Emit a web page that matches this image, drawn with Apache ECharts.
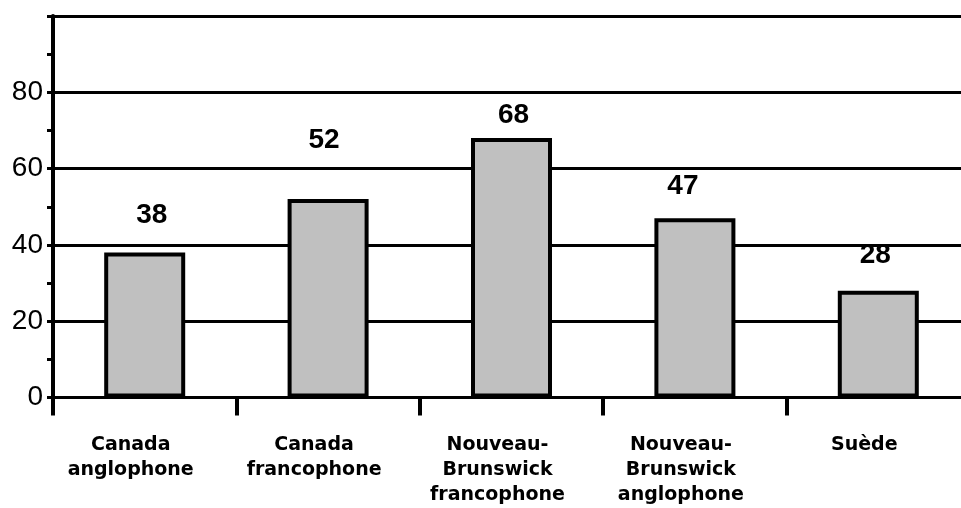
<!DOCTYPE html>
<html>
<head>
<meta charset="utf-8">
<script src="https://cdn.jsdelivr.net/npm/echarts@6/dist/echarts.min.js"></script>
<style>
  html, body { margin: 0; padding: 0; background: #ffffff; overflow: hidden; }
  #chart { width: 970px; height: 508px; }
</style>
</head>
<body>
<div id="chart"></div>
<script>
// Categories and values
const categories = [
  'Canada\nanglophone',
  'Canada\nfrancophone',
  'Nouveau-\nBrunswick\nfrancophone',
  'Nouveau-\nBrunswick\nanglophone',
  'Suède'
];
const values = [38, 52, 68, 47, 28];
const yTicks = [0, 20, 40, 60, 80];

// Label placement above each bar: [gap, horizontal shift]
const labelGap = [23, 45, 9, 18, 21];
const labelShift = [7, -4, 2, -12, -3];

const chart = echarts.init(document.getElementById('chart'), null, { renderer: 'canvas' });

const barData = values.map((v, i) => ({
  value: v,
  label: { distance: labelGap[i], offset: [labelShift[i], 0] }
}));

chart.setOption({
  animation: false,
  backgroundColor: '#ffffff',
  grid: { left: 53, right: 0, top: 16, bottom: 110.5, containLabel: false },
  xAxis: {
    type: 'category',
    data: categories,
    boundaryGap: true,
    axisLine: { show: true, lineStyle: { color: '#000', width: 3 } },
    axisTick: { show: true, alignWithLabel: false, length: 18, lineStyle: { color: '#000', width: 4 } },
    axisLabel: {
      interval: 0,
      margin: 35,
      color: '#000',
      fontFamily: 'DejaVu Sans',
      fontWeight: 'bold',
      fontSize: 19,
      lineHeight: 25,
      align: 'center',
      verticalAlign: 'top',
      padding: [0, 28, 0, 0]
    },
    splitLine: { show: false }
  },
  yAxis: {
    type: 'value',
    min: 0,
    max: 100,
    interval: 20,
    axisLine: { show: true, lineStyle: { color: '#000', width: 4 } },
    axisTick: { show: true, inside: false, length: 6, lineStyle: { color: '#000', width: 3 } },
    minorTick: { show: true, splitNumber: 2, length: 6, lineStyle: { color: '#000', width: 3 } },
    axisLabel: {
      margin: 10,
      color: '#000',
      fontFamily: 'Liberation Sans',
      fontSize: 28,
      formatter: v => (yTicks.indexOf(v) >= 0 ? String(v) : '')
    },
    splitLine: { show: true, lineStyle: { color: '#000', width: 3 } }
  },
  series: [{
    type: 'bar',
    data: barData,
    barWidth: 81,
    itemStyle: { color: '#c0c0c0', borderColor: '#000', borderWidth: 4 },
    label: {
      show: true,
      position: 'top',
      color: '#000',
      fontFamily: 'Liberation Sans',
      fontWeight: 'bold',
      fontSize: 28
    },
    z: 3
  }]
});
</script>
</body>
</html>
